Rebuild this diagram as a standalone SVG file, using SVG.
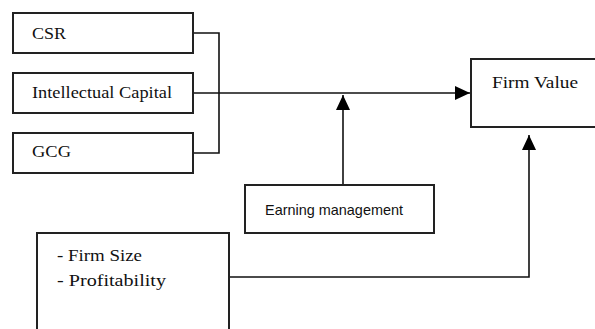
<svg xmlns="http://www.w3.org/2000/svg" width="595" height="329" viewBox="0 0 595 329">
<style>
.box{fill:#fff;stroke:#222;stroke-width:2}
.serif{font-family:"Liberation Serif","Times New Roman",serif;font-size:17px;fill:#111}
.sans{font-family:"Liberation Sans",Arial,sans-serif;font-size:15px;fill:#111}
.conn{fill:none;stroke:#111;stroke-width:1.6}
</style>
<defs>
<marker id="arr" markerWidth="15" markerHeight="14" refX="15" refY="7" orient="auto" markerUnits="userSpaceOnUse">
<path d="M0,0 L15,7 L0,14 Z" fill="#000"/>
</marker>
</defs>
<rect width="595" height="329" fill="#fff"/>
<g id="connectors">
<path class="conn" d="M193,33 H219 V153 H193"/>
<path class="conn" d="M193,93 H470" marker-end="url(#arr)"/>
<path class="conn" d="M343,185 V95" marker-end="url(#arr)"/>
<path class="conn" d="M229,277 H529 V135" marker-end="url(#arr)"/>
</g>
<g id="csr">
<rect class="box" x="13" y="13" width="180" height="40"/>
<text class="serif" x="32" y="39" textLength="34" lengthAdjust="spacingAndGlyphs">CSR</text>
</g>
<g id="intellectual-capital">
<rect class="box" x="13" y="73" width="180" height="40"/>
<text class="serif" x="32" y="98" textLength="140" lengthAdjust="spacingAndGlyphs">Intellectual Capital</text>
</g>
<g id="gcg">
<rect class="box" x="13" y="133" width="180" height="40"/>
<text class="serif" x="32" y="157" textLength="39" lengthAdjust="spacingAndGlyphs">GCG</text>
</g>
<g id="firm-value">
<rect class="box" x="471" y="59" width="160" height="68"/>
<text class="serif" x="492" y="88" textLength="86" lengthAdjust="spacingAndGlyphs">Firm Value</text>
</g>
<g id="earning-management">
<rect class="box" x="245" y="185" width="189" height="48"/>
<text class="sans" x="265" y="215" textLength="138" lengthAdjust="spacingAndGlyphs">Earning  management</text>
</g>
<g id="controls">
<rect class="box" x="37" y="233" width="192" height="110"/>
<text class="serif" x="57" y="261" textLength="85" lengthAdjust="spacingAndGlyphs">- Firm Size</text>
<text class="serif" x="57" y="286" textLength="109" lengthAdjust="spacingAndGlyphs">- Profitability</text>
</g>
</svg>
